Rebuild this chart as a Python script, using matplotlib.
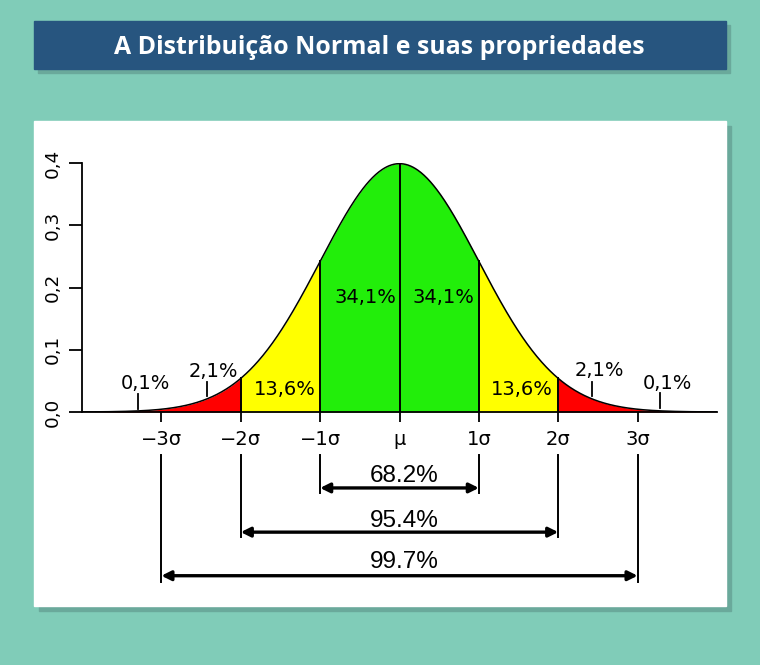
import numpy as np
import matplotlib
matplotlib.use("Agg")
import matplotlib.pyplot as plt
from matplotlib.patches import Rectangle

# chart data
title = "A Distribuição Normal e suas propriedades"
sigma_pos = [-3, -2, -1, 0, 1, 2, 3]
sigma_labels = ["\u22123\u03c3", "\u22122\u03c3", "\u22121\u03c3", "\u03bc", "1\u03c3", "2\u03c3", "3\u03c3"]
y_ticks = [0.0, 0.1, 0.2, 0.3, 0.4]
y_tick_labels = ["0,0", "0,1", "0,2", "0,3", "0,4"]
band_edges = [-4, -2, -1, 0, 1, 2, 4]
band_colors = ["#ff0000", "#ffff00", "#22ee0a", "#22ee0a", "#ffff00", "#ff0000"]
area_labels = ["34,1%", "34,1%", "13,6%", "13,6%", "2,1%", "2,1%", "0,1%", "0,1%"]
area_x = [-0.43, 0.55, -1.45, 1.54, -2.34, 2.52, -3.2, 3.37]
area_y = [0.175, 0.175, 0.027, 0.027, 0.056, 0.058, 0.037, 0.037]
marker_x = [-2.43, 2.43, -3.29, 3.28]
marker_y0 = [0.026, 0.026, 0.005, 0.006]
marker_y1 = [0.048, 0.048, 0.029, 0.030]
range_k = [1, 2, 3]
range_labels = ["68.2%", "95.4%", "99.7%"]
range_arrow_y = [-0.122, -0.193, -0.263]
range_text_y = [-0.112, -0.185, -0.251]
range_line_bottom = [-0.130, -0.201, -0.273]

W, H = 760, 665
BG = "#80ccb8"
SHADOW = "#6aa99b"


def fbox(x0, y0, x1, y1):
    # pixel box (top-left origin) -> figure fraction rect
    return (x0 / W, 1 - y1 / H), (x1 - x0) / W, (y1 - y0) / H


fig = plt.figure(figsize=(W / 100, H / 100), dpi=100)
fig.patch.set_facecolor(BG)

for (x0, y0, x1, y1), col in [((38, 25, 730, 73), SHADOW), ((34, 21, 726, 69), "#27557f"),
                               ((39, 126, 731, 611), SHADOW), ((34, 121, 726, 606), "white")]:
    xy, w, h = fbox(x0, y0, x1, y1)
    fig.patches.append(Rectangle(xy, w, h, transform=fig.transFigure, color=col, zorder=0))

fig.text(379 / W, 1 - 47 / H, title, ha="center", va="center", color="white",
         fontsize=17.9, fontweight="bold", family=["Open Sans", "DejaVu Sans"])

ax = fig.add_axes([82 / W, 1 - 412 / H, 635 / W, 249 / H])
ax.set_zorder(3)
ax.set_facecolor("none")
ax.set_xlim(-4, 4)
ax.set_ylim(0, 0.4)

x = np.linspace(-4, 4, 801)
pdf = np.exp(-x ** 2 / 2) / np.sqrt(2 * np.pi)

for i, col in enumerate(band_colors):
    m = (x >= band_edges[i]) & (x <= band_edges[i + 1])
    ax.fill_between(x[m], 0, pdf[m], color=col, lw=0)
ax.plot(x, pdf, color="black", lw=1.1)
for k in [-2, -1, 0, 1, 2]:
    ax.plot([k, k], [0, np.exp(-k ** 2 / 2) / np.sqrt(2 * np.pi)], color="black", lw=1.4)

for lab, tx, ty in zip(area_labels, area_x, area_y):
    ax.text(tx, ty, lab, ha="center", va="baseline", fontsize=14, family="DejaVu Sans")
for mx, a, b in zip(marker_x, marker_y0, marker_y1):
    ax.plot([mx, mx], [a, b], color="black", lw=1.3)

for s in ["top", "right"]:
    ax.spines[s].set_visible(False)
ax.spines["left"].set_bounds(0, 0.4)
ax.spines["left"].set_linewidth(1.3)
ax.spines["bottom"].set_linewidth(1.3)
ax.set_xticks(sigma_pos, sigma_labels, fontsize=14, family="DejaVu Sans")
ax.set_yticks(y_ticks, y_tick_labels, fontsize=13.2, family="DejaVu Sans", rotation=90, va="center")
ax.tick_params(axis="x", length=7.5, width=1.3, pad=5.5)
ax.tick_params(axis="y", length=9.5, width=1.3, pad=5)

# range brackets below the axis
for k in sigma_pos:
    if k == 0:
        continue
    bottom = range_line_bottom[abs(k) - 1]
    ax.plot([k, k], [-0.069, bottom], color="black", lw=1.4, clip_on=False)
for k, lab, ay, ty in zip(range_k, range_labels, range_arrow_y, range_text_y):
    ax.annotate("", xy=(k, ay), xytext=(-k, ay), annotation_clip=False,
                arrowprops=dict(arrowstyle="<|-|>", color="black", lw=2.4,
                                mutation_scale=14, shrinkA=0, shrinkB=0))
    ax.text(0.06, ty, lab, ha="center", va="baseline", fontsize=17.5, family="Liberation Sans")

fig.savefig("out.png", dpi=100, facecolor=BG)
